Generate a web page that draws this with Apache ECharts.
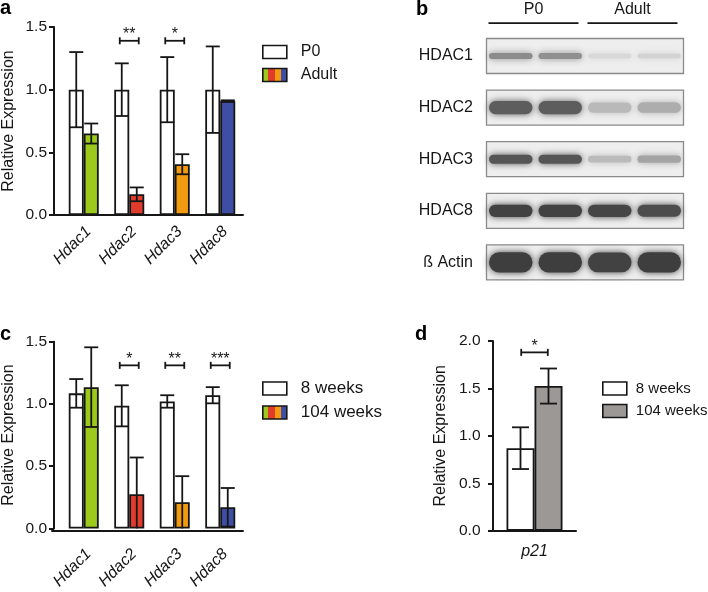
<!DOCTYPE html>
<html>
<head>
<meta charset="utf-8">
<title>HDAC expression</title>
<script src="https://cdn.jsdelivr.net/npm/echarts@6/dist/echarts.min.js"></script>
<style>
  html, body { margin: 0; padding: 0; background: #fff; }
  #chart { width: 708px; height: 592px; }
</style>
</head>
<body>
<div id="chart"></div>
<script>
// ---- data ----
const genes = ['Hdac1', 'Hdac2', 'Hdac3', 'Hdac8'];
const geneColors = ['#9cc91b', '#e13c2b', '#f29b10', '#3f4ea5'];
const expTicks = [0, 0.5, 1.0, 1.5];

// a: P0 vs Adult
const aP0 = [1.0, 1.0, 1.0, 1.0];
const aP0Err = [0.30, 0.21, 0.26, 0.345];
const aAdult = [0.65, 0.165, 0.405, 0.91];
const aAdultErr = [0.08, 0.055, 0.08, 0.005];
const aStars = ['', '**', '*', ''];

// c: 8 weeks vs 104 weeks
const c8w = [1.085, 0.985, 1.02, 1.07];
const c8wErr = [0.115, 0.165, 0.05, 0.065];
const c104w = [1.135, 0.275, 0.21, 0.17];
const c104wErr = [0.32, 0.295, 0.21, 0.155];
const cStars = ['', '*', '**', '***'];

// d: p21
const dGenes = ['p21'];
const dTicks = [0, 0.5, 1.0, 1.5, 2.0];
const d8w = [0.87];
const d8wErr = [0.22];
const d104w = [1.525];
const d104wErr = [0.185];
const dStars = ['*'];

// b: western blot, band darkness 0..1 per lane
const blotRows = ['HDAC1', 'HDAC2', 'HDAC3', 'HDAC8', 'ß Actin'];
const blotLanes = ['P0 1', 'P0 2', 'Adult 1', 'Adult 2'];
const blotGroups = ['P0', 'Adult'];
const bandHDAC1 = [0.5, 0.48, 0.11, 0.14];
const bandHDAC2 = [0.74, 0.74, 0.27, 0.33];
const bandHDAC3 = [0.78, 0.78, 0.26, 0.38];
const bandHDAC8 = [0.88, 0.88, 0.86, 0.82];
const bandActin = [0.9, 0.9, 0.88, 0.9];
const blotBands = [bandHDAC1, bandHDAC2, bandHDAC3, bandHDAC8, bandActin];

// ---- style ----
const FONT = '"Liberation Sans", Arial, Helvetica, sans-serif';
const INK = '#161616';
const bandH = [8, 15, 10, 13, 21];

const rainbow = {
    type: 'linear', x: 0, y: 0, x2: 1, y2: 0,
    colorStops: [
        { offset: 0, color: geneColors[0] }, { offset: 0.25, color: geneColors[0] },
        { offset: 0.25, color: geneColors[1] }, { offset: 0.5, color: geneColors[1] },
        { offset: 0.5, color: geneColors[2] }, { offset: 0.75, color: geneColors[2] },
        { offset: 0.75, color: geneColors[3] }, { offset: 1, color: geneColors[3] }
    ]
};

function lineStyle(w) {
    return { stroke: INK, lineWidth: w || 1.8 };
}

// error bars drawn on top of a bar (dx = offset of that bar from category centre)
function errorSeries(xi, yi, means, errs, dx, capW) {
    return {
        type: 'custom', xAxisIndex: xi, yAxisIndex: yi, z: 5, silent: true,
        data: means.map((m, i) => [i, m, errs[i]]),
        renderItem(params, api) {
            const i = api.value(0), m = api.value(1), e = api.value(2);
            const top = api.coord([i, m + e]);
            const low = api.coord([i, Math.max(0, m - e)]);
            const x = top[0] + dx;
            const kids = [
                { type: 'line', shape: { x1: x, y1: top[1], x2: x, y2: low[1] }, style: lineStyle() },
                { type: 'line', shape: { x1: x - capW / 2, y1: top[1], x2: x + capW / 2, y2: top[1] }, style: lineStyle() }
            ];
            if (m - e > 0) {
                kids.push({ type: 'line', shape: { x1: x - capW / 2, y1: low[1], x2: x + capW / 2, y2: low[1] }, style: lineStyle() });
            }
            return { type: 'group', children: kids };
        }
    };
}

// significance bracket + stars
function sigSeries(xi, yi, stars, level, halfW, fs) {
    const items = stars.map((s, i) => [i, level, s]).filter(d => d[2]);
    return {
        type: 'custom', xAxisIndex: xi, yAxisIndex: yi, z: 6, silent: true,
        data: items.map(d => [d[0], d[1]]),
        renderItem(params, api) {
            const p = api.coord([api.value(0), api.value(1)]);
            const x1 = p[0] - halfW, x2 = p[0] + halfW, y = p[1];
            return {
                type: 'group', children: [
                    { type: 'line', shape: { x1: x1, y1: y, x2: x2, y2: y }, style: lineStyle() },
                    { type: 'line', shape: { x1: x1, y1: y - 3.5, x2: x1, y2: y + 3.5 }, style: lineStyle() },
                    { type: 'line', shape: { x1: x2, y1: y - 3.5, x2: x2, y2: y + 3.5 }, style: lineStyle() },
                    { type: 'text', x: p[0], y: y - 6,
                      style: { text: items[params.dataIndex][2], fill: INK, font: fs + 'px ' + FONT, align: 'center', verticalAlign: 'middle' } }
                ]
            };
        }
    };
}

function barSeries(name, xi, yi, values, barW, colors) {
    return {
        name: name, type: 'bar', xAxisIndex: xi, yAxisIndex: yi,
        barWidth: barW, barGap: '0%',
        data: values.map((v, i) => ({
            value: v,
            itemStyle: { color: colors ? colors[i] : '#fff' }
        })),
        itemStyle: { borderColor: INK, borderWidth: 1.8, color: colors ? geneColors[0] : '#fff' },
        emphasis: { disabled: true },
        z: 3
    };
}

function valueY(gi, ticks, show, labelMargin, nameGap, offset) {
    return {
        gridIndex: gi, type: 'value', show: show, offset: offset || 0,
        min: ticks[0], max: ticks[ticks.length - 1], interval: ticks[1] - ticks[0],
        splitLine: { show: false },
        axisLine: { show: true, lineStyle: { color: INK, width: 2 } },
        axisTick: { show: true, length: 5, lineStyle: { color: INK, width: 2 } },
        axisLabel: { fontSize: 15.5, fontFamily: FONT, color: INK, margin: labelMargin, formatter: v => v.toFixed(1) },
        name: 'Relative Expression', nameLocation: 'middle', nameGap: nameGap,
        nameTextStyle: { fontSize: 16, fontFamily: FONT, color: INK }
    };
}

function lineX(gi) {
    return {
        gridIndex: gi, type: 'value', min: 0, max: 1,
        axisLine: { show: true, onZero: false, lineStyle: { color: INK, width: 2 } },
        axisTick: { show: false }, axisLabel: { show: false }, splitLine: { show: false }
    };
}

function geneX(gi, cats, rotate, margin, pad) {
    return {
        gridIndex: gi, type: 'category', data: cats,
        axisLine: { show: false }, axisTick: { show: false },
        axisLabel: {
            interval: 0, rotate: rotate, margin: margin, fontSize: 16, fontStyle: 'italic',
            fontFamily: FONT, color: INK, padding: pad || 0
        }
    };
}

function legendOf(left, top, fs, gap, textGap, items) {
    return {
        orient: 'vertical', left: left, top: top, padding: 0, itemGap: gap,
        itemWidth: 24, itemHeight: 13, selectedMode: false, icon: 'rect',
        textStyle: { fontSize: fs, fontFamily: FONT, color: INK, padding: [0, 0, 0, textGap] },
        data: items.map(it => ({
            name: it[0], icon: 'rect',
            itemStyle: { color: it[1], borderColor: INK, borderWidth: 1.6 }
        }))
    };
}

function panelTitle(t, left, top) {
    return { text: t, left: left, top: top, padding: 0,
             textStyle: { fontSize: 20, fontWeight: 'bold', fontFamily: FONT, color: '#000' } };
}

const chart = echarts.init(document.getElementById('chart'), null, { renderer: 'canvas' });

const blotData = [];
blotBands.forEach((row, r) => row.forEach((d, l) => blotData.push([l, r, d])));

const option = {
    backgroundColor: '#fff',
    animation: false,
    textStyle: { fontFamily: FONT },
    title: [
        panelTitle('a', 0, -2),
        panelTitle('b', 416, -1),
        panelTitle('c', 0, 324),
        panelTitle('d', 415, 324)
    ],
    legend: [
        legendOf(262, 44, 16, 7, 9, [['P0', '#fff'], ['Adult', rainbow]]),
        legendOf(262, 380, 17, 7, 9, [['8 weeks', '#fff'], ['104 weeks', rainbow]]),
        legendOf(602, 381, 15, 7.5, 4, [['8 weeks', '#fff'], ['104 weeks', '#9b9895']])
    ],
    grid: [
        { left: 52, top: 27, width: 191, height: 188 },      // a frame
        { left: 59, top: 27, width: 184, height: 188 },      // a bars
        { left: 52, top: 341.7, width: 191, height: 189 },   // c frame
        { left: 59, top: 341.7, width: 184, height: 189 },   // c bars
        { left: 493, top: 341, width: 83, height: 189.7 },   // d
        { left: 486, top: 30.2, width: 198, height: 258 }    // b blot
    ],
    xAxis: [
        lineX(0),
        geneX(1, genes, 45, 19, [0, -7, 0, 0]),
        lineX(2),
        geneX(3, genes, 45, 28, [0, -7, 0, 0]),
        Object.assign(geneX(4, dGenes, 0, 13), {
            axisLine: { show: true, lineStyle: { color: INK, width: 2 } }
        }),
        { gridIndex: 5, type: 'category', data: blotLanes, show: false }
    ],
    yAxis: [
        valueY(0, [0, 1], false, 7, 37),
        valueY(1, expTicks, true, 7, 37, 7),
        valueY(2, [0, 1], false, 7, 37),
        valueY(3, expTicks, true, 7, 37, 7),
        valueY(4, dTicks, true, 12.5, 44),
        {
            gridIndex: 5, type: 'category', data: blotRows, inverse: true,
            axisLine: { show: false }, axisTick: { show: false },
            axisLabel: { fontSize: 16, fontFamily: FONT, color: INK, margin: 13 }
        }
    ],
    series: [
        // a
        barSeries('P0', 1, 1, aP0, 15),
        barSeries('Adult', 1, 1, aAdult, 15, geneColors),
        errorSeries(1, 1, aP0, aP0Err, -7.5, 14),
        errorSeries(1, 1, aAdult, aAdultErr, 7.5, 14),
        sigSeries(1, 1, aStars, 1.39, 9.5, 16),
        // c
        barSeries('8 weeks', 3, 3, c8w, 15),
        barSeries('104 weeks', 3, 3, c104w, 15, geneColors),
        errorSeries(3, 3, c8w, c8wErr, -7.5, 14),
        errorSeries(3, 3, c104w, c104wErr, 7.5, 14),
        sigSeries(3, 3, cStars, 1.31, 9.5, 16),
        // d
        barSeries('8 weeks', 4, 4, d8w, 28),
        barSeries('104 weeks', 4, 4, d104w, 28, ['#9b9895']),
        errorSeries(4, 4, d8w, d8wErr, -14, 17),
        errorSeries(4, 4, d104w, d104wErr, 14, 17),
        sigSeries(4, 4, dStars, 1.88, 13.3, 16),
        // b: blot frames
        {
            type: 'custom', xAxisIndex: 5, yAxisIndex: 5, z: 1, silent: true,
            data: blotRows.map((r, i) => [0, i]),
            renderItem(params, api) {
                const cs = params.coordSys;
                const cy = api.coord([0, api.value(1)])[1];
                return {
                    type: 'rect',
                    shape: { x: cs.x + 0.5, y: cy - 17.5, width: cs.width - 1, height: 35 },
                    style: { fill: '#eeeeee', stroke: '#8a8a8a', lineWidth: 1.3 }
                };
            }
        },
        // b: bands
        {
            type: 'custom', xAxisIndex: 5, yAxisIndex: 5, z: 2, silent: true,
            data: blotData,
            renderItem(params, api) {
                const lane = api.value(0), row = api.value(1), d = api.value(2);
                const c = api.coord([lane, row]);
                const bw = api.size([1, 0])[0];
                const w = bw - 6;
                const h = bandH[row] * (0.55 + 0.45 * d);
                const g = Math.round(238 - d * 196);
                const col = 'rgb(' + g + ',' + g + ',' + g + ')';
                return {
                    type: 'rect',
                    shape: { x: c[0] - w / 2, y: c[1] - h / 2, width: w, height: h, r: h / 2 },
                    style: { fill: col, shadowBlur: 7, shadowColor: col }
                };
            }
        },
        // b: group header
        {
            type: 'custom', xAxisIndex: 5, yAxisIndex: 5, z: 2, silent: true,
            data: blotGroups.map((g, i) => [i * 2, 0]),
            renderItem(params, api) {
                const cs = params.coordSys;
                const bw = api.size([1, 0])[0];
                const i = params.dataIndex;
                const x1 = api.coord([2 * i, 0])[0] - bw / 2 + 2.5;
                const x2 = api.coord([2 * i + 1, 0])[0] + bw / 2 - 6.5;
                const y = cs.y - 7;
                return {
                    type: 'group', children: [
                        { type: 'line', shape: { x1: x1, y1: y, x2: x2, y2: y }, style: lineStyle(1.8) },
                        { type: 'text', x: (x1 + x2) / 2, y: y - 14,
                          style: { text: blotGroups[i], fill: INK, font: '16px ' + FONT, align: 'center', verticalAlign: 'middle' } }
                    ]
                };
            }
        }
    ]
};

chart.setOption(option);
</script>
</body>
</html>
